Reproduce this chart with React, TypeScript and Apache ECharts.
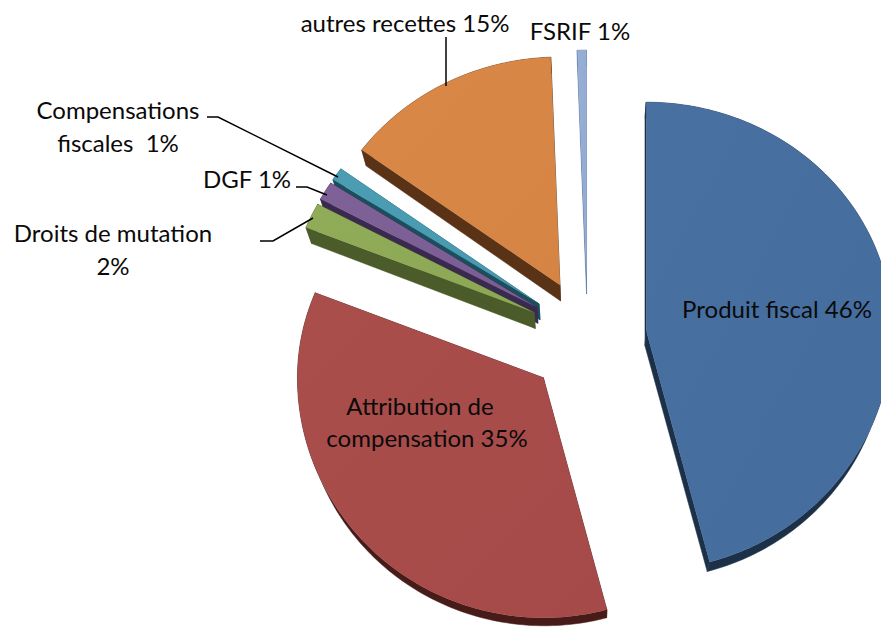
import React, { useEffect, useRef } from "react";
import * as echarts from "echarts";

const sliceNames = ["Produit fiscal", "Attribution de compensation", "Droits de mutation", "DGF", "Compensations fiscales", "autres recettes", "FSRIF"];
const sliceValues = [45.8, 35.2, 1.8, 1.3, 0.9, 14.3, 0.6];
const faceColors = ["#446D9E", "#A64A49", "#8CA855", "#7A5E93", "#4699AF", "#D58443", "#94ABD1"];
const faceLight = ["#4871A2", "#AA4E4C", "#90AC59", "#7E6297", "#4A9DB3", "#D98847", "#98AFD5"];
const wallColors = ["#1C3048", "#471B18", "#4B5B29", "#3A2A50", "#1C4E5E", "#5A3316", "#5F7AA8"];
const sliceOrder = [0, 1, 6, 5, 4, 3, 2];

const labelTexts = [
  { text: "Produit fiscal 46%", x: 777, y: 308 },
  { text: "Attribution de", x: 420, y: 405 },
  { text: "compensation 35%", x: 427, y: 437 },
  { text: "autres recettes 15%", x: 405, y: 22 },
  { text: "FSRIF 1%", x: 580, y: 30 },
  { text: "Compensations", x: 118, y: 109 },
  { text: "fiscales  1%", x: 118, y: 142 },
  { text: "DGF 1%", x: 247, y: 178 },
  { text: "Droits de mutation", x: 113, y: 232 },
  { text: "2%", x: 113, y: 265 },
];
const leaderLines = [
  [[446, 37], [446, 86]],
  [[207, 117], [218, 117], [338, 177]],
  [[296, 187], [307, 187], [327, 195]],
  [[260, 241], [273, 241], [313, 218]],
];

const CX = 587.6;
const CY = 338;
const RX = 246;
const RY_UP = 228;
const RY_DOWN = 240;
const EXPLODE_X = 59;
const EXPLODE_Y = 60;
const total = sliceValues.reduce((a, b) => a + b, 0);

const shift = (p: number[]) => {
  const dy = p[1] <= 320 ? 16 : 16 - (p[1] - 320) * 0.027;
  return [p[0] - (p[0] - 590) * 0.02, p[1] + dy];
};

function renderSlice(params: any, api: any) {
  const i = params.dataIndex;
  const before = sliceValues.slice(0, i).reduce((a, b) => a + b, 0);
  const a0 = (before / total) * Math.PI * 2;
  const a1 = ((before + api.value(1)) / total) * Math.PI * 2;
  const mid = (a0 + a1) / 2;
  const ox = CX + EXPLODE_X * Math.sin(mid);
  const oy = CY - EXPLODE_Y * Math.cos(mid);
  const apex = [ox, oy];
  const steps = Math.max(4, Math.ceil(((a1 - a0) * 180) / Math.PI));
  const arc: number[][] = [];
  for (let s = 0; s <= steps; s++) {
    const a = a0 + ((a1 - a0) * s) / steps;
    const c = Math.cos(a);
    arc.push([ox + RX * Math.sin(a), oy - (c > 0 ? RY_UP : RY_DOWN) * c]);
  }
  const first = arc[0];
  const last = arc[arc.length - 1];
  const z = sliceOrder.indexOf(i) * 10;
  const wall = wallColors[i];
  const wallStyle = { fill: wall, stroke: wall, lineWidth: 0.5 };
  const poly = (points: number[][], style: any, z2: number) => ({ type: "polygon", shape: { points }, style, z2 });
  const gradient = new echarts.graphic.LinearGradient(0, 0, 1, 1, [
    { offset: 0, color: faceLight[i] },
    { offset: 1, color: faceColors[i] },
  ]);
  return {
    type: "group",
    children: [
      poly([apex, first, shift(first), shift(apex)], wallStyle, z),
      poly([apex, last, shift(last), shift(apex)], wallStyle, z),
      poly([...arc, ...arc.slice().reverse().map(shift)], wallStyle, z),
      poly([apex, ...arc], { fill: gradient }, z + 1),
    ],
  };
}

export default function App() {
  const ref = useRef<HTMLDivElement>(null);
  useEffect(() => {
    document.body.style.margin = "0";
    document.body.style.overflow = "hidden";
    const chart = echarts.init(ref.current!, null, { renderer: "svg" });
    chart.setOption({
      animation: false,
      backgroundColor: "#ffffff",
      series: [
        {
          type: "custom",
          coordinateSystem: "none",
          silent: true,
          clip: false,
          renderItem: renderSlice,
          data: sliceNames.map((name, i) => ({ name, value: [i, sliceValues[i]] })),
        },
      ],
      graphic: [
        ...leaderLines.map((points) => ({
          type: "polyline",
          shape: { points },
          style: { stroke: "#000000", lineWidth: 1.5, fill: "none" },
          z: 5,
        })),
        ...labelTexts.map((l) => ({
          type: "text",
          x: l.x,
          y: l.y,
          z: 6,
          style: {
            text: l.text,
            fill: "#0a0a0a",
            font: '400 24px Lato, "Open Sans", sans-serif',
            textAlign: "center",
            textVerticalAlign: "middle",
          },
        })),
      ],
    });
    return () => chart.dispose();
  }, []);
  return <div ref={ref} style={{ width: 881, height: 628 }} />;
}
